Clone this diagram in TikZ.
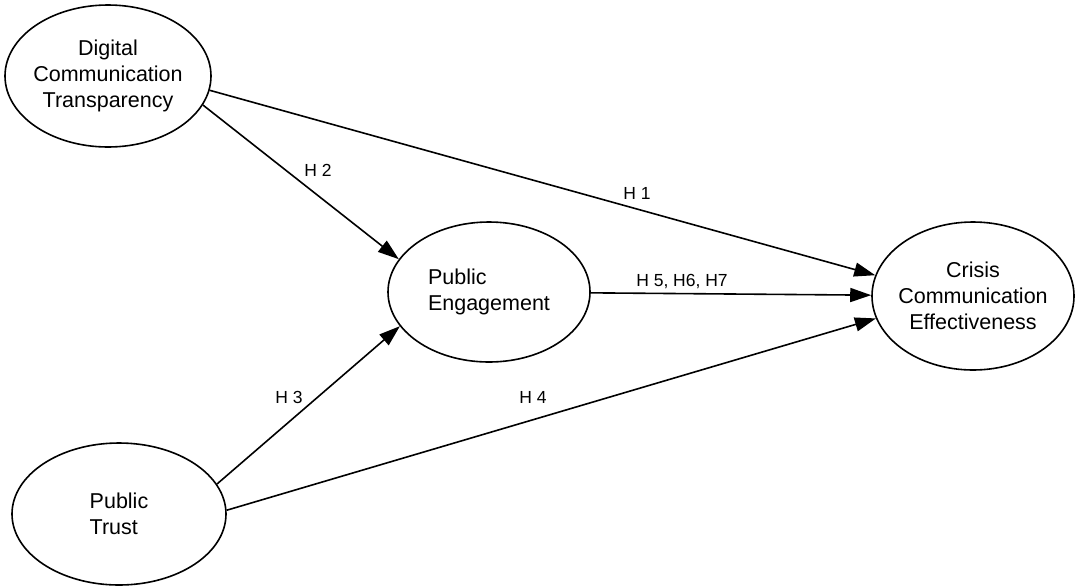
\documentclass[tikz,border=0pt]{standalone}
\usepackage{fontspec}
\setmainfont{Liberation Sans}
\usetikzlibrary{arrows.meta,shapes.geometric}
\tikzset{
  latent/.style={
    draw=black,
    ellipse,
    line width=1.6pt,
    fill=white,
    minimum width=206pt,
    minimum height=142pt,
    inner sep=0pt
  },
  ctext/.style={font=\fontsize{21.5}{26}\selectfont, align=center},
  ltext/.style={font=\fontsize{21.5}{26}\selectfont, align=left},
  line/.style={-{Triangle[length=21pt,width=14pt]}, line width=1.6pt, draw=black},
  hyp/.style={font=\fontsize{17.5}{21}\selectfont}
}

\begin{document}
\begin{tikzpicture}[x=1pt,y=-1pt]
\useasboundingbox (0,0) rectangle (1075,587);
\node[latent, label={[ctext]center:{Digital\\Communication\\Transparency}}] (dct) at (108,76) {};
\node[latent, minimum width=202pt, minimum height=140pt, label={[ltext]center:{Public\\Engagement}}] (pe) at (489,292) {};
\node[latent, minimum width=202pt, minimum height=148pt, label={[ctext]center:{Crisis\\Communication\\Effectiveness}}] (cce) at (973,296) {};
\node[latent, minimum width=214pt, label={[ltext]center:{Public\\Trust}}] (pt) at (119,514) {};

% paths between the constructs
\draw[line] (dct.-8) -- (cce.168);
\draw[line] (dct.-17) -- (pe.160);
\draw[line] (pt.17) -- (pe.-159);
\draw[line] (pt.2) -- (cce.-167);
\draw[line] (pe) -- (cce);

\node[hyp] (h1) at (637,193) {H 1};
\node[hyp] (h2) at (318,170) {H 2};
\node[hyp] (h3) at (289,397) {H 3};
\node[hyp] (h4) at (533,397) {H 4};
\node[hyp] (h5) at (682,282) {H 5, H6, H7};
\end{tikzpicture}
\end{document}
